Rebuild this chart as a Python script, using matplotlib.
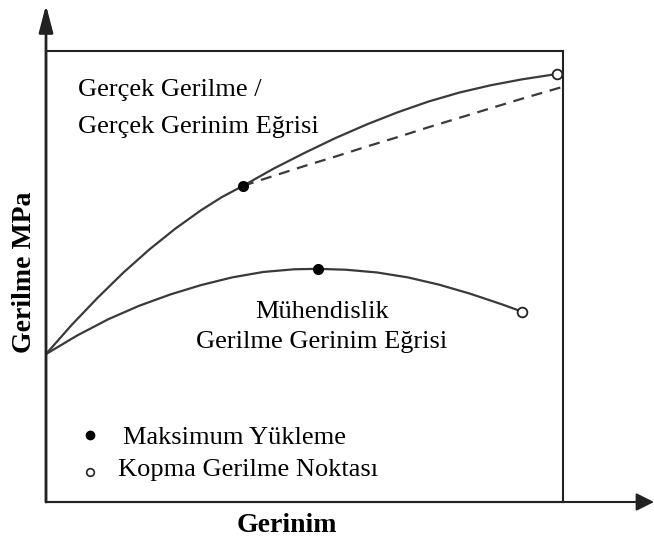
import numpy as np
import matplotlib
matplotlib.use('Agg')
import matplotlib.pyplot as plt

plt.rcParams['font.family'] = ['Liberation Serif', 'DejaVu Serif']

# gercek gerilme / gercek gerinim egrisi (ust egri)
true_x = [0, 5, 10, 15, 20, 25, 30, 34, 38.1, 44, 50, 56, 62, 68, 74, 80, 86, 92, 98.8]
true_y = [32.8, 39.3, 45.3, 50.9, 56.0, 60.6, 64.7, 67.6, 70.1, 73.9, 77.4, 80.7,
          83.7, 86.4, 88.8, 90.8, 92.4, 93.7, 94.9]

# kesikli cizgi
dash_x = [38.1, 44, 50, 56, 62, 68, 74, 80, 86, 92, 99.8]
dash_y = [70.1, 72.3, 74.5, 76.6, 78.8, 80.9, 83.1, 85.2, 87.3, 89.4, 92.0]

# muhendislik gerilme gerinim egrisi
eng_x = [0, 6, 12, 18, 24, 30, 36, 42, 48, 52.6, 58, 64, 70, 76, 82, 88, 92.1]
eng_y = [32.8, 36.9, 40.5, 43.5, 46.0, 48.1, 49.8, 51.0, 51.6, 51.7, 51.5, 50.9,
         49.8, 48.2, 46.2, 43.9, 42.2]

max_load_x = [38.1, 52.6]
max_load_y = [70.1, 51.7]
break_x = [98.8, 92.1]
break_y = [94.9, 42.2]

W, H = 654, 539
fig = plt.figure(figsize=(W / 100, H / 100), dpi=100)
ax = fig.add_axes([46 / W, 37 / H, 517 / W, 451 / H])
ax.set_xlim(0, 100)
ax.set_ylim(0, 100)
ax.set_xticks([])
ax.set_yticks([])
for s in ax.spines.values():
    s.set_linewidth(1.5)
    s.set_color('#222222')

lc = '#3a3a3a'
ax.plot(true_x, true_y, color=lc, lw=1.6)
ax.plot(eng_x, eng_y, color=lc, lw=1.6)
ax.plot(dash_x, dash_y, color=lc, lw=1.6, ls=(0, (5, 3.5)))
ax.plot(max_load_x, max_load_y, 'o', color='black', ms=7)
ax.plot(break_x, break_y, 'o', mfc='white', mec='#222222', mew=1.3, ms=7, clip_on=False)

fs = 19
ax.text(6.2, 91.4, 'Gerçek Gerilme /', fontsize=fs, va='center', ha='left')
ax.text(6.2, 83.1, 'Gerçek Gerinim Eğrisi', fontsize=fs, va='center', ha='left')
ax.text(53.4, 42.1, 'Mühendislik', fontsize=fs, va='center', ha='center')
ax.text(53.4, 35.5, 'Gerilme Gerinim Eğrisi', fontsize=fs, va='center', ha='center')

# aciklama
ax.plot([8.5], [14.9], 'o', color='black', ms=6)
ax.plot([8.5], [6.7], 'o', mfc='white', mec='#222222', mew=1.2, ms=5.5)
ax.text(14.9, 14.2, 'Maksimum Yükleme', fontsize=fs, va='center', ha='left')
ax.text(13.9, 7.1, 'Kopma Gerilme Noktası', fontsize=fs, va='center', ha='left')

# eksen oklari
ax.annotate('', xy=(46, H - 5), xytext=(46, 37), xycoords='figure pixels',
            arrowprops=dict(arrowstyle='-|>,head_length=1.65,head_width=0.43',
                            mutation_scale=10, lw=2, color='#222222',
                            shrinkA=0, shrinkB=0))
ax.annotate('', xy=(654, 37), xytext=(46, 37), xycoords='figure pixels',
            arrowprops=dict(arrowstyle='-|>,head_length=1.08,head_width=0.54',
                            mutation_scale=10, lw=1.5, color='#222222',
                            shrinkA=0, shrinkB=0))

fig.text(287 / W, 1 - 525 / H, 'Gerinim', fontsize=20, fontweight='bold',
         ha='center', va='center')
fig.text(25 / W, 1 - 272 / H, 'Gerilme MPa', fontsize=20, fontweight='bold',
         ha='center', va='center', rotation=90)

fig.savefig('out.png', dpi=100)
